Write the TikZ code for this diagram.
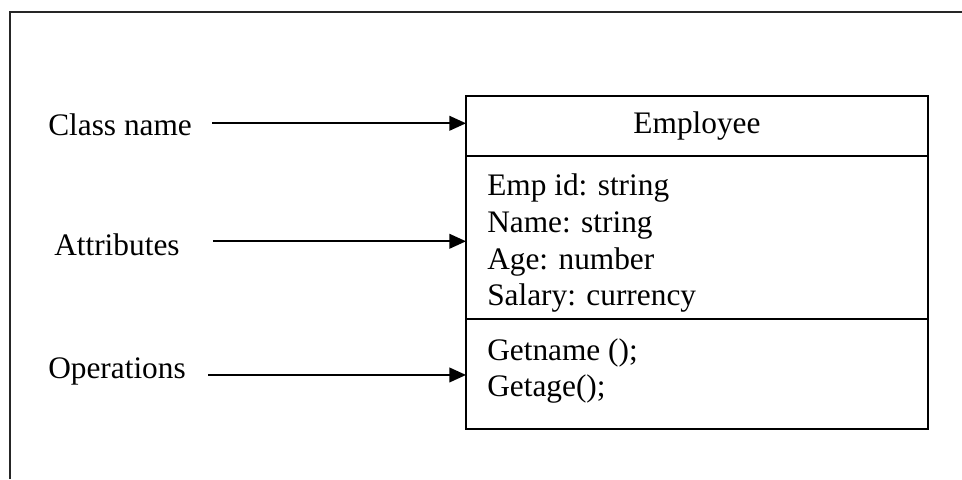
\documentclass[tikz,border=0pt]{standalone}
\usepackage{fontspec}
\setmainfont{Liberation Serif}
\usetikzlibrary{arrows.meta}

\begin{document}
\begin{tikzpicture}[x=0.75pt,y=-0.75pt,
    txt/.style={font=\fontsize{23.5}{27.6}\selectfont, inner sep=0pt},
    part/.style={txt, draw, line width=1.4pt, outer sep=0pt, minimum width=346.5pt},
    link/.style={line width=1.4pt, -{Triangle[length=12.5pt,width=11pt]}},
    frame/.style={line width=1.2pt, black!85}]

    \useasboundingbox (0,0) rectangle (962,479);
    \draw[frame] (10,479) -- (10,12) -- (962,12);

    \node[part, minimum height=45pt, anchor=north west] (name) at (466,96) {Employee};
    \node[part, minimum height=122.25pt, anchor=north] (attr) at (name.south) {};
    \node[part, minimum height=82.5pt, anchor=north] (oper) at (attr.south) {};

    \node[txt, align=left, anchor=north west] (attrtext) at ([shift={(21,17.5)}]attr.north west)
        {Emp id: string\\Name: string\\Age: number\\Salary: currency};
    \node[txt, align=left, anchor=north west] (opertext) at ([shift={(21,19)}]oper.north west)
        {Getname ();\\Getage();};

    \node[txt, anchor=base west] (clslbl) at (48,135) {Class name};
    \node[txt, anchor=base west] (attrlbl) at (54,255) {Attributes};
    \node[txt, anchor=base west] (operlbl) at (48,378) {Operations};

    \draw[link] ([shift={(20,-1)}]clslbl.east) coordinate (c1) -- (c1 -| name.west);
    \draw[link] ([shift={(33,-3)}]attrlbl.east) coordinate (c2) -- (c2 -| attr.west);
    \draw[link] ([shift={(22,4)}]operlbl.east) coordinate (c3) -- (c3 -| oper.west);

\end{tikzpicture}
\end{document}
